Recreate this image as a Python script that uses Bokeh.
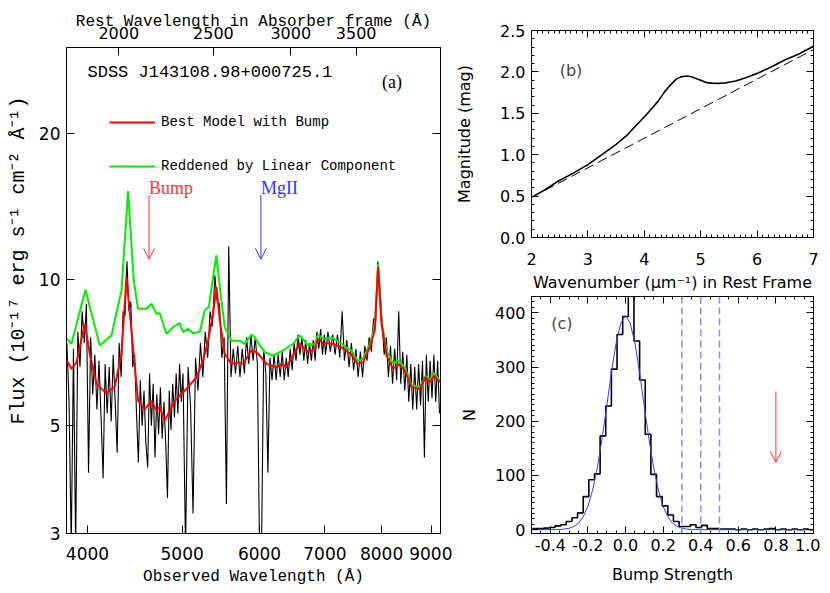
from bokeh.plotting import figure
from bokeh.models import (Range1d, LogAxis, LinearAxis, FixedTicker, SingleIntervalTicker,
                          PrintfTickFormatter, Label, Arrow, OpenHead, LogScale, Span,
                          Legend, LegendItem)
from bokeh.layouts import row, column
from bokeh.embed import file_html
from bokeh.resources import INLINE

# ---------------- data: panel (a) spectrum ----------------
z_abs = 1.153
obs_wave = list(range(3810, 5000, 20)) + list(range(5010, 7000, 30)) + list(range(7010, 9200, 40))
obs_flux = [
    7.4, 5.6, 2.8, 7.2, 2.8, 7.8, 6.6, 8.6, 7.4, 8.9,
    4.0, 7.6, 5.8, 7.0, 5.4, 6.8, 5.2, 3.9, 6.7, 5.3,
    6.6, 5.1, 7.0, 5.6, 4.4, 7.4, 6.3, 8.6, 8.4, 10.9,
    8.6, 9.0, 6.6, 7.0, 5.3, 4.2, 6.2, 5.0, 5.9, 4.6,
    4.1, 6.4, 5.0, 6.1, 4.3, 5.8, 4.8, 6.0, 4.7, 5.6,
    4.6, 3.55, 5.9, 4.9, 6.1, 5.2, 6.4, 5.3, 6.7, 5.6,
    6.4, 2.8, 6.6, 5.5, 3.3, 6.9, 5.9, 7.4, 6.3, 7.8,
    6.9, 8.6, 8.0, 10.2, 9.0, 8.9, 6.9, 7.6, 3.45, 11.7,
    6.3, 7.2, 6.4, 7.3, 6.3, 7.2, 6.4, 7.6, 6.7, 7.7,
    6.8, 7.6, 6.7, 2.8, 2.9, 7.2, 6.4, 4.0, 6.9, 6.2,
    7.0, 6.2, 7.0, 6.3, 7.1, 6.2, 6.9, 6.3, 7.2, 6.5,
    7.4, 6.8, 7.7, 7.0, 7.6, 6.8, 7.5, 6.7, 7.4, 6.8,
    7.5, 6.8, 7.8, 7.2, 7.9, 7.0, 7.7,
    7.0, 7.8, 7.1, 7.7, 7.0, 7.7, 6.9, 8.6, 6.8, 7.5,
    6.6, 7.4, 6.5, 7.2, 6.3, 7.1, 6.3, 7.3, 6.8, 7.6,
    7.1, 8.3, 8.2, 10.9, 9.5, 8.1, 7.0, 7.6, 6.3, 7.3,
    6.1, 7.2, 6.2, 8.6, 6.1, 7.1, 5.9, 7.0, 5.6, 6.7,
    5.4, 6.6, 5.4, 6.7, 5.5, 6.8, 4.3, 7.0, 5.6, 6.8,
    5.7, 7.0, 5.6, 6.8, 5.3,
]

model_wave = [3810, 3852, 3898, 3975, 4022, 4086, 4183, 4266, 4334, 4385, 4437, 4506, 4578,
              4651, 4706, 4743, 4799, 4856, 4914, 4992, 5070, 5172, 5253, 5315, 5378, 5421,
              5464, 5528, 5616, 5705, 5772, 5888, 5958, 5980, 6100, 6245, 6319, 6394, 6494,
              6598, 6728, 6835, 6889, 6970, 7110, 7279, 7393, 7453, 7559, 7659, 7781, 7873,
              7935, 7999, 8094, 8221, 8318, 8450, 8585, 8755, 8873, 8964, 9055, 9177]
model_flux = [6.81, 6.54, 6.75, 8.10, 7.03, 6.09, 5.83, 6.02, 7.03, 10.1, 7.85, 5.63, 5.41,
              5.62, 5.37, 5.46, 5.12, 5.37, 5.63, 5.81, 6.00, 6.29, 6.81, 7.48, 8.50, 9.64,
              8.23, 7.03, 6.70, 6.75, 6.70, 7.14, 7.08, 7.03, 6.70, 6.59, 6.70, 6.59, 6.97,
              7.37, 7.08, 7.19, 7.55, 7.37, 7.39, 7.25, 7.08, 7.00, 6.70, 6.75, 7.25, 7.85,
              10.6, 8.10, 6.97, 6.54, 6.70, 6.49, 6.00, 5.95, 6.29, 6.14, 6.34, 6.14]

linear_wave = [3810, 3852, 3981, 4118, 4233, 4334, 4402, 4461, 4506, 4596, 4651, 4706, 4743,
               4818, 4894, 4972, 5011, 5070, 5130, 5212, 5274, 5324, 5378, 5421, 5464, 5528,
               5616, 5728, 5795, 5888, 5934, 5958, 6075, 6195, 6343, 6494, 6598, 6728, 6835,
               6889, 6970, 7110, 7279, 7393, 7453, 7559, 7659, 7781, 7873, 7935, 7999, 8094,
               8221, 8318, 8450, 8585, 8755, 8873, 8964, 9055, 9177]
linear_flux = [7.55, 7.37, 9.52, 7.31, 7.67, 9.49, 15.2, 9.95, 8.70, 8.70, 8.91, 8.50, 8.52,
               7.73, 7.97, 8.13, 7.79, 7.91, 7.75, 7.79, 8.63, 8.77, 10.1, 11.2, 9.64, 7.97,
               7.48, 7.48, 7.37, 7.70, 7.60, 7.48, 7.08, 6.97, 7.14, 7.37, 7.67, 7.31, 7.37,
               7.70, 7.55, 7.60, 7.37, 7.19, 7.14, 6.81, 6.86, 7.37, 7.97, 10.77, 8.23, 7.14,
               6.70, 6.81, 6.59, 6.05, 6.00, 6.34, 6.19, 6.41, 6.19]

obs_ticks = [4000, 5000, 6000, 7000, 8000, 9000]
rest_ticks = [2000, 2500, 3000, 3500]
flux_ticks = [3, 5, 10, 20]
bump_obs = 4625
mgii_obs = 6020

# ---------------- data: panel (b) extinction ----------------
ext_wn = [2.0, 2.25, 2.47, 2.75, 3.0, 3.25, 3.5, 3.7, 3.85, 4.02, 4.15, 4.25, 4.35, 4.42,
          4.56, 4.65, 4.74, 4.82, 4.88, 5.0, 5.11, 5.2, 5.34, 5.45, 5.62, 5.8, 6.03, 6.25,
          6.48, 6.75, 7.0]
ext_mag = [0.485, 0.58, 0.68, 0.78, 0.88, 1.0, 1.125, 1.24, 1.35, 1.47, 1.57, 1.65, 1.75, 1.81,
           1.91, 1.94, 1.95, 1.945, 1.93, 1.9, 1.87, 1.865, 1.862, 1.868, 1.89, 1.93, 1.99, 2.06,
           2.14, 2.22, 2.31]
lin_wn = [2.0, 7.0]
lin_mag = [0.485, 2.27]

# ---------------- data: panel (c) histogram ----------------
bin_width = 0.03
hist_counts = [2, 2, 3, 4, 7, 9, 15, 22, 31, 61, 92, 103, 173, 228, 296, 360,
               393, 470, 348, 276, 176, 102, 61, 44, 27, 15, 6, 6, 9, 4, 8, 2, 2,
               1, 1, 1, 0, 1, 0, 1, 0, 1, 2, 0, 1, 0, 1, 0, 1, 0]
hist_start = -0.495
fit_x = [-0.5, -0.4, -0.375, -0.35, -0.325, -0.3, -0.275, -0.25, -0.225, -0.2, -0.175, -0.15,
         -0.125, -0.1, -0.075, -0.05, -0.025, 0.0, 0.025, 0.05, 0.075, 0.1, 0.125, 0.15,
         0.175, 0.2, 0.225, 0.25, 0.275, 0.3, 0.325, 0.35, 0.4, 0.5, 1.0]
fit_y = [0, 0.1, 0.2, 0.5, 1.2, 2.7, 6, 12, 24, 43, 73, 114, 167, 227, 290, 344, 381, 395,
         381, 344, 290, 227, 167, 114, 73, 43, 24, 12, 6, 2.7, 1.2, 0.5, 0.1, 0, 0]
limit_lines = [0.3, 0.4, 0.5]
measured_bump = 0.8

MONO = "Liberation Mono"
SANS = "DejaVu Sans"
SERIF = "Liberation Serif"
NBSP = "\u00a0"


def base_style(p):
    p.outline_line_color = "black"
    p.outline_line_width = 1
    p.background_fill_color = "white"
    p.border_fill_color = "white"
    p.xgrid.grid_line_color = None
    p.ygrid.grid_line_color = None


def ax_style(ax, font, size, tin, minor_in=0):
    ax.axis_line_color = "black"
    ax.major_tick_line_color = "black"
    ax.minor_tick_line_color = "black"
    ax.major_tick_in = tin
    ax.major_tick_out = 0
    ax.minor_tick_in = minor_in
    ax.minor_tick_out = 0
    ax.major_label_text_font = font
    ax.major_label_text_font_size = size
    ax.major_label_text_color = "black"
    ax.axis_label_text_font_style = "normal"
    ax.axis_label_text_color = "black"


def hide_labels(ax):
    ax.major_label_text_font_size = "1px"
    ax.major_label_text_color = None
    ax.major_label_text_alpha = 0
    ax.major_label_standoff = 0


# ---------------- panel (a) ----------------
pa = figure(x_axis_type="log", y_axis_type="log",
            x_range=Range1d(3807, 9192), y_range=Range1d(3, 30),
            width=452, height=588,
            min_border_left=66, min_border_right=12, min_border_top=47, min_border_bottom=55,
            output_backend="svg", toolbar_location=None)
base_style(pa)

xa = pa.xaxis[0]
ax_style(xa, SANS, "17px", 8)
xa.ticker = FixedTicker(ticks=obs_ticks, minor_ticks=[])
xa.formatter = PrintfTickFormatter(format="%d")
xa.axis_label = "Observed Wavelength (Å)"
xa.axis_label_text_font = MONO
xa.axis_label_text_font_size = "16px"
xa.major_label_standoff = 13
xa.axis_label_standoff = 5

ya = pa.yaxis[0]
ax_style(ya, SANS, "17px", 8)
ya.ticker = FixedTicker(ticks=flux_ticks, minor_ticks=[])
ya.formatter = PrintfTickFormatter(format="%d")
ya.axis_label = NBSP * 5 + "Flux (10⁻¹⁷ erg s⁻¹ cm⁻² Å⁻¹)"
ya.axis_label_text_font = MONO
ya.axis_label_text_font_size = "20px"
ya.major_label_standoff = 6
ya.axis_label_standoff = 6

pa.extra_x_ranges = {"rest": Range1d(3807 / (1 + z_abs), 9192 / (1 + z_abs))}
pa.extra_x_scales = {"rest": LogScale()}
top_a = LogAxis(x_range_name="rest")
ax_style(top_a, SANS, "16px", 8)
top_a.ticker = FixedTicker(ticks=rest_ticks, minor_ticks=[])
top_a.formatter = PrintfTickFormatter(format="%d")
top_a.axis_label = "Rest Wavelength in Absorber frame (Å)"
top_a.axis_label_text_font = MONO
top_a.axis_label_text_font_size = "16px"
top_a.major_label_standoff = 9
top_a.axis_label_standoff = -7
pa.add_layout(top_a, "above")

right_a = LogAxis()
ax_style(right_a, SANS, "1px", 8)
right_a.ticker = FixedTicker(ticks=flux_ticks, minor_ticks=[])
hide_labels(right_a)
pa.add_layout(right_a, "right")

r_obs = pa.line(obs_wave, obs_flux, line_color="black", line_width=1.1)
r_lin = pa.line(linear_wave, linear_flux, line_color="#00ee00", line_width=2)
r_mod = pa.line(model_wave, model_flux, line_color="#ff0000", line_width=2)

legend = Legend(items=[LegendItem(label="Best Model with Bump", renderers=[r_mod]),
                       LegendItem(label="Reddened by Linear Component", renderers=[r_lin])],
                location=(43, 357), orientation="vertical", border_line_color=None,
                background_fill_alpha=0, glyph_width=46, glyph_height=20, label_height=20,
                label_standoff=6, spacing=24, padding=0, margin=0,
                label_text_font=MONO, label_text_font_size="14px", label_text_color="black")
pa.add_layout(legend)

pa.add_layout(Label(x=4000, y=26.7, text="SDSS J143108.98+000725.1", text_font=MONO,
                    text_font_size="17px", text_baseline="middle", text_align="left",
                    text_color="black"))
pa.add_layout(Label(x=8009, y=25.5, text="(a)", text_font=SERIF, text_font_size="18px",
                    text_baseline="middle", text_align="left", text_color="black"))
pa.add_layout(Label(x=bump_obs, y=15.4, text="Bump", text_font=SERIF, text_font_size="18px",
                    text_baseline="middle", text_align="left", text_color="#ff3333"))
pa.add_layout(Label(x=mgii_obs, y=15.4, text="MgII", text_font=SERIF, text_font_size="18px",
                    text_baseline="middle", text_align="left", text_color="#3333ff"))
pa.add_layout(Arrow(x_start=bump_obs, y_start=14.9, x_end=bump_obs, y_end=11.0,
                    line_color="#ff3333", line_width=1,
                    end=OpenHead(size=11, line_color="#ff3333", line_width=1)))
pa.add_layout(Arrow(x_start=mgii_obs, y_start=14.9, x_end=mgii_obs, y_end=11.0,
                    line_color="#3333ff", line_width=1,
                    end=OpenHead(size=11, line_color="#3333ff", line_width=1)))

# ---------------- panel (b) ----------------
pb = figure(x_range=Range1d(2, 7), y_range=Range1d(0, 2.5),
            width=368, height=294,
            min_border_left=72, min_border_right=7, min_border_top=30, min_border_bottom=57,
            output_backend="svg", toolbar_location=None)
base_style(pb)
xb = pb.xaxis[0]
ax_style(xb, SANS, "16px", 7, 3)
xb.ticker = SingleIntervalTicker(interval=1, num_minor_ticks=10)
xb.axis_label = "Wavenumber (μm⁻¹) in Rest Frame"
xb.axis_label_text_font = SANS
xb.axis_label_text_font_size = "16px"
xb.major_label_standoff = 15
xb.axis_label_standoff = 5
yb = pb.yaxis[0]
ax_style(yb, SANS, "16px", 7, 3)
yb.ticker = SingleIntervalTicker(interval=0.5, num_minor_ticks=5)
yb.formatter = PrintfTickFormatter(format="%.1f")
yb.axis_label = "Magnitude (mag)"
yb.axis_label_text_font = SANS
yb.axis_label_text_font_size = "16px"
yb.major_label_standoff = 6
yb.axis_label_standoff = 23
tb = LinearAxis(ticker=SingleIntervalTicker(interval=1, num_minor_ticks=10))
ax_style(tb, SANS, "1px", 7, 3)
hide_labels(tb)
pb.add_layout(tb, "above")
rb = LinearAxis(ticker=SingleIntervalTicker(interval=0.5, num_minor_ticks=5))
ax_style(rb, SANS, "1px", 7, 3)
hide_labels(rb)
pb.add_layout(rb, "right")

pb.line(lin_wn, lin_mag, line_color="black", line_width=1, line_dash="10 5")
pb.line(ext_wn, ext_mag, line_color="black", line_width=1.6)
pb.add_layout(Label(x=2.5, y=2.02, text="(b)", text_font=SANS, text_font_size="16px",
                    text_baseline="middle", text_align="left", text_color="#444444"))

# ---------------- panel (c) ----------------
pc = figure(x_range=Range1d(-0.5, 1.0), y_range=Range1d(-7, 430),
            width=368, height=294,
            min_border_left=72, min_border_right=7, min_border_top=2, min_border_bottom=55,
            output_backend="svg", toolbar_location=None)
base_style(pc)
xc = pc.xaxis[0]
ax_style(xc, SANS, "16px", 7, 3)
xc.ticker = SingleIntervalTicker(interval=0.2, num_minor_ticks=4)
xc.formatter = PrintfTickFormatter(format="%.1f")
xc.axis_label = "Bump Strength"
xc.axis_label_text_font = SANS
xc.axis_label_text_font_size = "16px"
xc.major_label_standoff = 5
xc.axis_label_standoff = 11
yc = pc.yaxis[0]
ax_style(yc, SANS, "16px", 7, 3)
yc.ticker = SingleIntervalTicker(interval=100, num_minor_ticks=10)
yc.axis_label = "N"
yc.axis_label_text_font = SANS
yc.axis_label_text_font_size = "16px"
yc.major_label_standoff = 6
yc.axis_label_standoff = 13
tc = LinearAxis(ticker=SingleIntervalTicker(interval=0.2, num_minor_ticks=4))
ax_style(tc, SANS, "1px", 7, 3)
hide_labels(tc)
pc.add_layout(tc, "above")
rc = LinearAxis(ticker=SingleIntervalTicker(interval=100, num_minor_ticks=10))
ax_style(rc, SANS, "1px", 7, 3)
hide_labels(rc)
pc.add_layout(rc, "right")

hist_edges = [round(hist_start + i * bin_width, 3) for i in range(len(hist_counts) + 1)]
pc.step(hist_edges, hist_counts + [hist_counts[-1]], mode="after",
        line_color="black", line_width=1.6)
pc.line(fit_x, fit_y, line_color="#3a3aff", line_width=1)
for loc in limit_lines:
    pc.add_layout(Span(location=loc, dimension="height", line_color="#8a8aff",
                       line_width=1.5, line_dash="7 4"))
pc.add_layout(Arrow(x_start=measured_bump, y_start=255, x_end=measured_bump, y_end=124,
                    line_color="#ff3333", line_width=1,
                    end=OpenHead(size=11, line_color="#ff3333", line_width=1)))
pc.add_layout(Label(x=-0.395, y=380, text="(c)", text_font=SANS, text_font_size="16px",
                    text_baseline="middle", text_align="left", text_color="#444444"))

layout = row(pa, column(pb, pc))
open("out.html", "w").write(file_html(layout, INLINE))
